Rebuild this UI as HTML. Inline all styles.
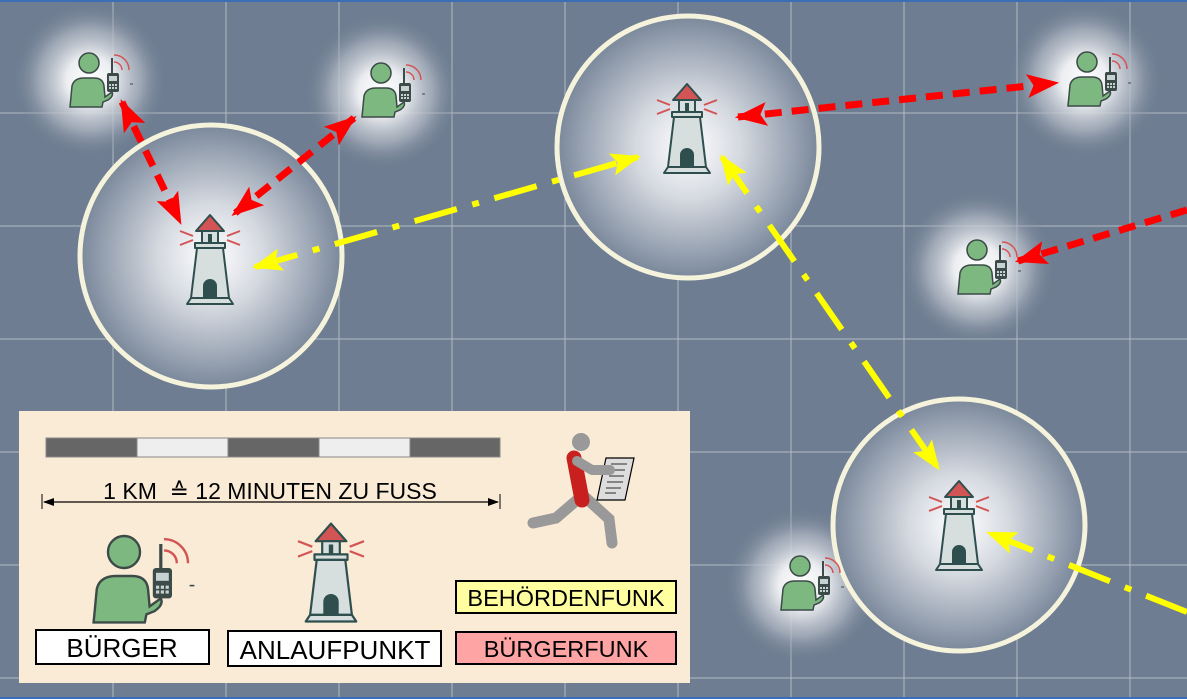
<!DOCTYPE html>
<html><head><meta charset="utf-8"><style>
html,body{margin:0;padding:0;background:#6e7d91;}
svg{display:block}
text{font-family:"Liberation Sans",sans-serif;}
</style></head><body>
<svg width="1187" height="699" viewBox="0 0 1187 699" xmlns="http://www.w3.org/2000/svg">
<defs>
<radialGradient id="halo"><stop offset="0" stop-color="#ffffff"/><stop offset="0.3" stop-color="#eceef1"/><stop offset="0.65" stop-color="#b3bac5" stop-opacity="0.7"/><stop offset="1" stop-color="#6e7d91" stop-opacity="0"/></radialGradient>
<radialGradient id="halo2"><stop offset="0" stop-color="#ffffff"/><stop offset="0.4" stop-color="#d5d9e0"/><stop offset="1" stop-color="#7a889b"/></radialGradient>
<g id="lh">
 <g transform="translate(-210,-259)" stroke="#2f4f4f" stroke-width="2" stroke-linejoin="round">
  <polygon points="210,215 196,231 224,231" fill="#d35454"/>
  <rect x="202" y="231" width="16" height="12" fill="#d6dede"/>
  <rect x="208" y="234" width="4" height="9" fill="#2f4f4f" stroke="none"/>
  <rect x="195" y="243" width="30" height="5" fill="#d6dede"/>
  <polygon points="197,248 223,248 229,298 191,298" fill="#d6dede"/>
  <path d="M204,298 V286 A6,6 0 0 1 216,286 V298 Z" fill="#2f4f4f"/>
  <polygon points="191,298 229,298 233,304 187,304" fill="#d6dede"/>
  <g stroke="#d35454" stroke-width="2"><line x1="180" y1="231" x2="193" y2="236"/><line x1="180" y1="245" x2="193" y2="240"/><line x1="240" y1="231" x2="227" y2="236"/><line x1="240" y1="245" x2="227" y2="240"/></g>
 </g>
</g>
<g id="ps">
 <g transform="translate(-89,-63)">
  <circle cx="89" cy="63" r="10" fill="#7cb87f" stroke="#3c4a48" stroke-width="1.5"/>
  <path d="M70,107 L72,86 Q74,78 84,78 L94,78 Q103,78 104,86 L105,97 L112,92 Q114,96 108,100 L103,102 L102,107 Z" fill="#7cb87f" stroke="#3c4a48" stroke-width="1.5"/>
  <line x1="112" y1="58" x2="112" y2="74" stroke="#3c4a48" stroke-width="2"/>
  <rect x="107" y="73" width="12" height="19" rx="2" fill="#3c4a48"/>
  <rect x="109" y="76" width="8" height="5" fill="#c8d2d2"/>
  <g fill="#c8d2d2"><rect x="109" y="84" width="2" height="2"/><rect x="112" y="84" width="2" height="2"/><rect x="115" y="84" width="2" height="2"/><rect x="109" y="87" width="2" height="2"/><rect x="112" y="87" width="2" height="2"/><rect x="115" y="87" width="2" height="2"/></g>
  <path d="M114,62 A8,8 0 0 1 122,70" fill="none" stroke="#d35454" stroke-width="1.5"/>
  <path d="M114,55 A15,15 0 0 1 129,70" fill="none" stroke="#d35454" stroke-width="1.5"/>
  <line x1="130" y1="84" x2="133" y2="84" stroke="#3c4a48" stroke-width="1"/>
 </g>
</g>
<marker id="ra" viewBox="0 0 10 10" refX="9" refY="5" markerWidth="4.6" markerHeight="3.4" preserveAspectRatio="none" orient="auto-start-reverse" markerUnits="strokeWidth"><path d="M0,0 L10,5 L0,10 L2,5 Z" fill="#ff0000"/></marker>
<marker id="ya" viewBox="0 0 10 10" refX="9" refY="5" markerWidth="5" markerHeight="3.8" preserveAspectRatio="none" orient="auto-start-reverse" markerUnits="strokeWidth"><path d="M0,0 L10,5 L0,10 L2,5 Z" fill="#ffff00"/></marker>
</defs>
<rect width="1187" height="699" fill="#6e7d91"/>
<g stroke="#b4bac4" stroke-width="1">
 <line x1="113" y1="0" x2="113" y2="699"/><line x1="226" y1="0" x2="226" y2="699"/><line x1="339" y1="0" x2="339" y2="699"/><line x1="452" y1="0" x2="452" y2="699"/><line x1="565" y1="0" x2="565" y2="699"/><line x1="678" y1="0" x2="678" y2="699"/><line x1="791" y1="0" x2="791" y2="699"/><line x1="904" y1="0" x2="904" y2="699"/><line x1="1017" y1="0" x2="1017" y2="699"/><line x1="1130" y1="0" x2="1130" y2="699"/>
 <line x1="0" y1="113" x2="1187" y2="113"/><line x1="0" y1="226" x2="1187" y2="226"/><line x1="0" y1="339" x2="1187" y2="339"/><line x1="0" y1="452" x2="1187" y2="452"/><line x1="0" y1="565" x2="1187" y2="565"/><line x1="0" y1="678" x2="1187" y2="678"/>
</g>
<line x1="0" y1="1" x2="1187" y2="1" stroke="#3a6fb5" stroke-width="2"/>
<line x1="0" y1="698" x2="1187" y2="698" stroke="#3a6fb5" stroke-width="2"/>
<circle cx="90" cy="80" r="78" fill="url(#halo)"/>
<circle cx="382" cy="92" r="78" fill="url(#halo)"/>
<circle cx="1085" cy="80" r="78" fill="url(#halo)"/>
<circle cx="978" cy="268" r="78" fill="url(#halo)"/>
<circle cx="802" cy="585" r="78" fill="url(#halo)"/>
<circle cx="211" cy="256" r="131" fill="url(#halo2)" stroke="#f5f3dc" stroke-width="5"/>
<circle cx="688" cy="147" r="131" fill="url(#halo2)" stroke="#f5f3dc" stroke-width="5"/>
<circle cx="959" cy="525" r="126" fill="url(#halo2)" stroke="#f5f3dc" stroke-width="5"/>
<use href="#lh" x="210" y="259"/>
<use href="#lh" x="687" y="128"/>
<use href="#lh" x="959" y="525"/>
<use href="#ps" x="89" y="63"/>
<use href="#ps" x="381" y="73"/>
<use href="#ps" x="1087" y="62"/>
<use href="#ps" x="977" y="250"/>
<use href="#ps" x="800" y="566"/>
<g fill="none" stroke="#ff0000" stroke-width="7" stroke-dasharray="17 10">
 <line x1="122" y1="102" x2="180" y2="222" marker-start="url(#ra)" marker-end="url(#ra)"/>
 <line x1="354" y1="118" x2="234" y2="214" marker-start="url(#ra)" marker-end="url(#ra)"/>
 <line x1="738" y1="117" x2="1056" y2="83" marker-start="url(#ra)" marker-end="url(#ra)"/>
 <line x1="1187" y1="210" x2="1018" y2="261" marker-end="url(#ra)"/>
</g>
<g fill="none" stroke="#ffff00" stroke-width="6" stroke-dasharray="44 16 7 16">
 <line x1="255" y1="267" x2="638" y2="157" marker-start="url(#ya)" marker-end="url(#ya)"/>
 <line x1="722" y1="157" x2="938" y2="468" marker-start="url(#ya)" marker-end="url(#ya)"/>
 <line x1="1187" y1="612" x2="989" y2="533" marker-end="url(#ya)"/>
</g>
<rect x="19" y="411" width="671" height="272" fill="#faebd7"/>
<g stroke="#888" stroke-width="1">
<rect x="46" y="438" width="91" height="19" fill="#666"/><rect x="137" y="438" width="91" height="19" fill="#eee"/><rect x="228" y="438" width="91" height="19" fill="#666"/><rect x="319" y="438" width="91" height="19" fill="#eee"/><rect x="410" y="438" width="90" height="19" fill="#666"/>
</g>
<line x1="44" y1="502" x2="498" y2="502" stroke="#000" stroke-width="1.2"/>
<line x1="42" y1="494" x2="42" y2="509" stroke="#000"/><line x1="500" y1="494" x2="500" y2="509" stroke="#000"/>
<path d="M43,502 L54,498 L54,506 Z M499,502 L488,498 L488,506 Z" fill="#000"/>
<text x="270" y="499" font-size="23" text-anchor="middle" fill="#000">1 KM&#160; ≙ 12 MINUTEN ZU FUSS</text>
<g stroke="#999" stroke-linecap="round" fill="none" stroke-width="11">
 <polyline points="577,500 556,518 533,523"/>
 <polyline points="585,497 609,519 612,543"/>
</g>
<line x1="574" y1="458" x2="582" y2="500" stroke="#c8201e" stroke-width="15" stroke-linecap="round"/>
<circle cx="581" cy="442" r="9" fill="#999"/>
<polygon points="606,458 634,458 625,500 597,500" fill="#ddd" stroke="#000" stroke-width="1.2"/>
<g stroke="#666" stroke-width="1.5"><line x1="611" y1="464" x2="627" y2="464"/><line x1="610" y1="470" x2="625" y2="470"/><line x1="609" y1="476" x2="624" y2="476"/><line x1="607" y1="482" x2="623" y2="482"/><line x1="606" y1="488" x2="621" y2="488"/><line x1="605" y1="493" x2="616" y2="493"/></g>
<polyline points="577,461 592,470 610,470" stroke="#999" stroke-width="10" stroke-linecap="round" stroke-linejoin="round" fill="none"/>
<g transform="translate(124,552) scale(1.6)"><use href="#ps"/></g>
<g transform="translate(331,572) scale(1.1)"><use href="#lh"/></g>
<rect x="36" y="630" width="173" height="34" fill="#fff" stroke="#000" stroke-width="2"/>
<text x="122" y="657" font-size="26" text-anchor="middle">BÜRGER</text>
<rect x="228" y="631" width="213" height="35" fill="#fff" stroke="#000" stroke-width="2"/>
<text x="335" y="659" font-size="26" text-anchor="middle">ANLAUFPUNKT</text>
<rect x="456" y="581" width="220" height="32" fill="#ffffa0" stroke="#000" stroke-width="2"/>
<text x="566" y="606" font-size="23.5" text-anchor="middle">BEHÖRDENFUNK</text>
<rect x="456" y="632" width="220" height="32" fill="#ffa4a4" stroke="#000" stroke-width="2"/>
<text x="566" y="657" font-size="23.5" text-anchor="middle">BÜRGERFUNK</text>
</svg>
</body></html>
